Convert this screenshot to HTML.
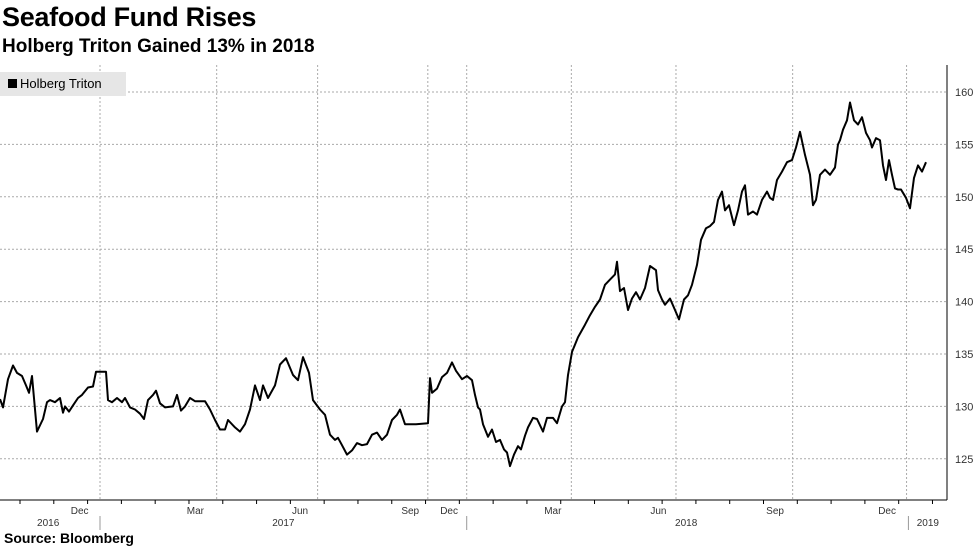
<!DOCTYPE html>
<html><head><meta charset="utf-8"><style>
body{margin:0;background:#fff;width:977px;height:549px;overflow:hidden;font-family:"Liberation Sans",sans-serif}
#title{position:absolute;left:2px;top:2px;font-size:27px;font-weight:bold;color:#000;letter-spacing:-0.3px}
#sub{position:absolute;left:2px;top:36px;font-size:19px;font-weight:bold;color:#000}
#src{position:absolute;left:4px;top:530px;font-size:14px;font-weight:bold}
svg{position:absolute;left:0;top:0}
</style></head><body>
<div id="title">Seafood Fund Rises</div>
<div id="sub">Holberg Triton Gained 13% in 2018</div>
<svg id="c" width="977" height="549"></svg>
<div id="src">Source: Bloomberg</div>
<script>
const values=[130.7,129.9,132.6,133.9,133.2,132.9,132,131.3,132.9,127.6,128.8,130.4,130.6,130.4,130.8,129.4,130,129.5,130.1,130.8,131.1,131.8,131.9,133.3,133.3,130.6,130.4,130.8,130.4,130.8,129.9,129.7,129.3,128.8,130.6,131.1,131.5,130.3,129.9,130,131.1,129.6,130,130.8,130.5,130.5,130.5,129.7,128.7,127.8,127.8,128.7,128,127.6,128.3,129.7,132,130.6,132,130.8,132,134,134.6,133,132.5,134.7,133.2,130.6,129.7,129.2,127.3,126.8,127,126.3,125.4,125.8,126.5,126.3,126.4,127.3,127.5,126.8,127.3,128.7,129.2,129.7,128.3,128.3,128.3,128.4,132.7,131.3,131.7,132.8,133.2,134.2,133.4,132.6,132.9,132.5,131.1,129.9,129.7,128.3,127.1,127.8,126.6,126.8,125.9,125.6,124.3,125.4,126.2,125.9,127.2,128,128.9,128.8,127.6,128.9,128.9,128.4,130,130.4,133,135.2,135.9,136.6,137.8,138.7,139.5,140.2,141.6,142.1,142.6,143.8,141,141.3,139.2,140.3,140.9,140.2,141.3,143.4,143,141.1,140.2,139.7,140.3,139.2,138.3,140.2,140.6,141.6,143.5,145.9,147,147.2,147.6,149.7,150.5,148.7,149.2,147.3,148.7,150.5,151.1,148.3,148.6,148.3,149.7,150.5,149.9,149.7,151.6,152.4,153.3,153.5,154.7,156.2,154,152.1,149.2,149.7,152.1,152.6,152.1,152.8,155,155.4,156.4,157.3,159,157.3,156.9,157.6,156.1,155.4,154.7,155.6,155.4,153,151.6,153.5,152.1,150.8,150.7,150.7,149.9,148.9,151.8,153,152.4,153.3];
const days=[0,3,8,13,17,22,26,29,32,37,43,47,50,55,60,63,65,69,73,78,82,88,93,96,106,108,112,117,122,125,130,135,140,144,148,153,156,160,165,173,177,181,185,190,195,200,205,210,215,220,225,228,235,240,245,250,255,260,263,268,275,280,286,293,298,303,309,313,320,325,330,335,338,342,347,352,357,362,367,372,377,382,387,392,397,400,405,410,416,428,430,432,437,442,447,452,456,462,467,472,475,478,480,483,488,492,496,500,504,507,510,514,518,521,525,528,533,537,543,547,553,557,562,565,568,572,575,578,585,590,595,600,605,610,615,617,620,624,628,632,636,640,645,650,656,658,662,665,670,675,679,684,688,692,697,701,706,710,714,718,722,725,729,734,738,742,745,748,753,757,762,767,770,773,777,782,787,792,796,800,805,810,813,816,820,825,830,835,838,840,843,847,850,854,858,862,866,870,872,876,880,883,886,889,892,895,898,901,906,910,914,918,922,926];
const yTicks=[125,130,135,140,145,150,155,160];
const monthLabels=["Dec","Mar","Jun","Sep","Dec","Mar","Jun","Sep","Dec"];
const monthPos=[0.086,0.211,0.324,0.443,0.485,0.597,0.711,0.837,0.958];
const gridPos=[0.108,0.234,0.343,0.462,0.504,0.617,0.73,0.856,0.979];
const yearLabels=["2016","2017","2018","2019"];
const yearPos=[0.052,0.306,0.741,1.002];
const yearSep=[0.108,0.504,0.981];
const svg=document.getElementById('c'),NS='http://www.w3.org/2000/svg';
const TW=926,Y0=92,YS=52.4/5,DMAX=926;
const ys=v=>Y0+(160-v)*YS, xd=d=>d*TW/DMAX, xt=f=>f*TW;
function mk(t,a,p){const e=document.createElementNS(NS,t);for(const k in a)e.setAttribute(k,a[k]);(p||svg).appendChild(e);return e;}
for(const v of yTicks){
 const g=mk('line',{x1:0,x2:947,y1:ys(v),y2:ys(v),stroke:'#aaa','stroke-dasharray':'2,2'});
 
 
 const t=mk('text',{x:955,y:ys(v)+4,'font-size':11,fill:'#333'});t.textContent=v;
 
 
}
for(const f of gridPos){
 const g=mk('line',{x1:xt(f),x2:xt(f),y1:65,y2:500,stroke:'#aaa','stroke-dasharray':'2,2'});
 
 
}
mk('line',{x1:947,x2:947,y1:65,y2:500,stroke:'#000'});
mk('line',{x1:0,x2:947,y1:500,y2:500,stroke:'#000'});
for(let i=0;i<28;i++){const x=i*TW/27.4+20;mk('line',{x1:x,x2:x,y1:500,y2:504,stroke:'#000'});}
monthLabels.forEach((m,i)=>{const t=mk('text',{x:xt(monthPos[i]),y:514,'font-size':10,fill:'#333','text-anchor':'middle'});t.textContent=m;
 
 });
yearLabels.forEach((m,i)=>{const t=mk('text',{x:xt(yearPos[i]),y:526,'font-size':10,fill:'#333','text-anchor':'middle'});t.textContent=m;
 
 });
yearSep.forEach(f=>mk('line',{x1:xt(f),x2:xt(f),y1:516,y2:530,stroke:'#999'}));
const n=Math.min(values.length,days.length);
let d='';for(let i=0;i<n;i++){d+=(i?'L':'M')+xd(days[i]).toFixed(1)+','+ys(values[i]).toFixed(1);}
const p=mk('path',{d:d,fill:'none',stroke:'#000','stroke-width':2,'stroke-linejoin':'round'});


const lg=mk('g',{});


mk('rect',{x:0,y:72,width:126,height:24,fill:'#e6e6e6'},lg);
mk('rect',{x:8,y:79,width:9,height:9,fill:'#000'},lg);
const lt=mk('text',{x:20,y:88,'font-size':13,fill:'#000'},lg);lt.textContent='Holberg Triton';
</script>
</body></html>
